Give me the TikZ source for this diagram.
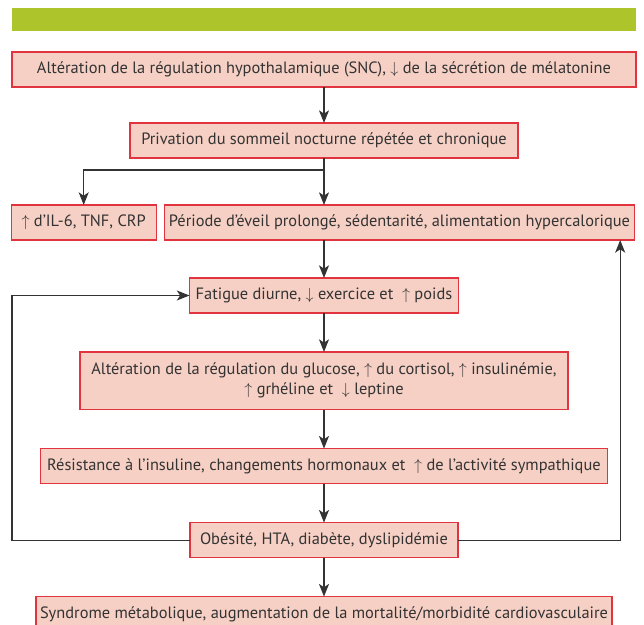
\documentclass[tikz,border=0pt]{standalone}
\usepackage{fontspec}
\setmainfont{PT Sans}
\usepackage{xcolor}
\usepackage{tikz}
\usetikzlibrary{arrows.meta, positioning}
\definecolor{bargreen}{HTML}{ADC52B}
\definecolor{boxfill}{HTML}{F6D0C4}
\definecolor{boxline}{HTML}{E2343F}
\definecolor{ink}{HTML}{333333}
\tikzset{
  bar/.style={rectangle, fill=bargreen, minimum width=468pt, minimum height=17.25pt,
              inner sep=0pt, outer sep=0pt},
  box/.style={rectangle, draw=boxline, line width=0.8pt, fill=boxfill, text=ink,
              minimum height=26.25pt, inner xsep=1pt, inner ysep=2pt, outer sep=0pt,
              align=center, font=\fontsize{12.3}{15}\selectfont},
  fl/.style={-{Stealth[length=9.5pt, width=7.5pt, inset=2.5pt]}, draw=ink, line width=0.85pt}
}
\begin{document}
\begin{tikzpicture}
\node[bar] (hdr) {};
\path[use as bounding box] ([shift={(-9pt,6pt)}]hdr.north west) rectangle ++(483pt,-468.75pt);

\node[box, minimum width=468pt, below=15.75pt of hdr] (b1)
  {Altération de la régulation hypothalamique (SNC), $\downarrow$ de la sécrétion de mélatonine};
\node[box, minimum width=291pt, below=27pt of b1] (b2)
  {Privation du sommeil nocturne répétée et chronique};
\node[box, minimum width=352.5pt, below=35.25pt of b2, xshift=56.6pt] (per)
  {Période d’éveil prolongé, sédentarité, alimentation hypercalorique};
\node[box, minimum width=108.75pt, left=6.2pt of per] (il6)
  {$\uparrow$ d’IL-6, TNF, CRP};
\coordinate (mid) at (per.south -| b2.south);
\node[box, minimum width=201.75pt, below=28.5pt of mid] (fat)
  {Fatigue diurne, $\downarrow$ exercice et \ $\uparrow$ poids};
\node[box, minimum width=366pt, minimum height=43.2pt, below=29.25pt of fat] (glu)
  {Altération de la régulation du glucose, $\uparrow$ du cortisol, $\uparrow$ insulinémie,\\
   $\uparrow$ grhéline et \ $\downarrow$ leptine};
\node[box, minimum width=425.25pt, below=29.25pt of glu] (res)
  {Résistance à l’insuline, changements hormonaux et \ $\uparrow$ de l’activité sympathique};
\node[box, minimum width=201pt, below=29.25pt of res] (obe)
  {Obésité, HTA, diabète, dyslipidémie};
\node[box, minimum width=432pt, below=29.25pt of obe] (syn)
  {Syndrome métabolique, augmentation de la mortalité/morbidité cardiovasculaire};

\draw[fl] (b1) -- (b2);
\draw[fl] (b2.south) -- (b2.south |- per.north);
\draw[fl] (b2.south) -- ++(0,-9pt) -| (il6.north);
\draw[fl] (mid) -- (fat);
\draw[fl] (fat) -- (glu);
\draw[fl] (glu) -- (res);
\draw[fl] (res) -- (obe);
\draw[fl] (obe) -- (syn);
\draw[fl] (obe.west) -- (obe.west -| b1.west) |- (fat.west);
\draw[fl] (obe.east) -| ([xshift=-10.7pt]per.south east);
\end{tikzpicture}
\end{document}
